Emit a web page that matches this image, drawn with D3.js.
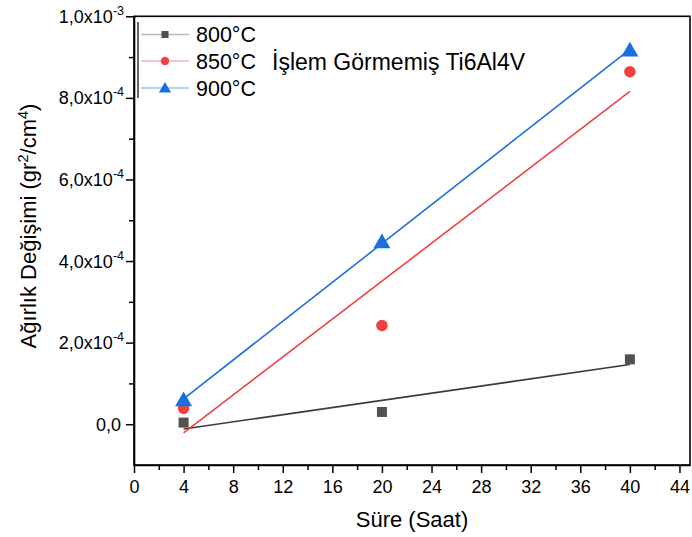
<!DOCTYPE html>
<html>
<head>
<meta charset="utf-8">
<script src="https://cdn.jsdelivr.net/npm/d3@7"></script>
<style>
  html, body { margin: 0; padding: 0; background: #fff; }
  svg { display: block; font-family: Arial, "Liberation Sans", sans-serif; }
</style>
</head>
<body>
<svg id="chart" width="692" height="537"></svg>
<script>
// Oxidation time (hours) and weight change for each temperature
const hours = [4, 20, 40];
const temps = ["800°C", "850°C", "900°C"];
const w800 = [4e-6, 3.0e-5, 1.59e-4];
const w850 = [3.9e-5, 2.42e-4, 8.64e-4];
const w900 = [6.0e-5, 4.47e-4, 9.17e-4];
const xTicks = [0, 4, 8, 12, 16, 20, 24, 28, 32, 36, 40, 44];
const yTicks = [0, 2e-4, 4e-4, 6e-4, 8e-4, 1e-3];
const yTickLabels = [["0,0", ""], ["2,0x10", "-4"], ["4,0x10", "-4"], ["6,0x10", "-4"], ["8,0x10", "-4"], ["1,0x10", "-3"]];
const sampleLabel = "İşlem Görmemiş Ti6Al4V";

const colors = ["#515151", "#F14040", "#1A6FDF"];
const lineColors = ["#3a3a3a", "#F14040", "#1A6FDF"];
const legendLineColors = ["#b8b8b8", "#f8b0b0", "#9cc0ef"];
const shapes = [d3.symbolSquare, d3.symbolCircle, d3.symbolTriangle];
const series = [w800, w850, w900];

const svg = d3.select("#chart");
const L = 134, R = 690, T = 16.3, B = 465;

const x = d3.scaleLinear().domain([0, 44.85]).range([L, R]);
const y = d3.scaleLinear().domain([-1e-4, 1e-3]).range([B, T]);

// least-squares line through each series
function fit(xs, ys) {
  const mx = d3.mean(xs), my = d3.mean(ys);
  let sxy = 0, sxx = 0;
  xs.forEach((v, i) => { sxy += (v - mx) * (ys[i] - my); sxx += (v - mx) * (v - mx); });
  const b = sxy / sxx, a = my - b * mx;
  return v => a + b * v;
}

// frame
svg.append("rect").attr("x", L).attr("y", T).attr("width", R - L).attr("height", B - T)
  .attr("fill", "none").attr("stroke", "#000").attr("stroke-width", 1.6);

// x axis
const xAxis = svg.append("g").attr("transform", `translate(0,${B})`)
  .call(d3.axisBottom(x).tickValues(xTicks).tickFormat(d3.format("d")).tickSize(8).tickSizeOuter(0));
svg.append("g").attr("transform", `translate(0,${B})`)
  .call(d3.axisBottom(x).tickValues(d3.range(2, 45, 4)).tickFormat("").tickSize(5).tickSizeOuter(0))
  .select(".domain").remove();
xAxis.selectAll("text").attr("font-size", 18).attr("fill", "#000").attr("dy", "0.95em")
  .attr("font-family", "Arial, 'Liberation Sans', sans-serif");

// y axis
const yAxis = svg.append("g").attr("transform", `translate(${L},0)`)
  .call(d3.axisLeft(y).tickValues(yTicks).tickFormat("").tickSize(8).tickSizeOuter(0));
svg.append("g").attr("transform", `translate(${L},0)`)
  .call(d3.axisLeft(y).tickValues([1e-4, 3e-4, 5e-4, 7e-4, 9e-4]).tickFormat("").tickSize(5).tickSizeOuter(0))
  .select(".domain").remove();
svg.selectAll(".domain").attr("stroke-width", 1.6);
svg.selectAll(".tick line").attr("stroke-width", 1.5);

yTicks.forEach((v, i) => {
  const [base, exp] = yTickLabels[i];
  const t = svg.append("text").attr("text-anchor", "end")
    .attr("x", exp ? L - 10 : L - 13).attr("y", y(v) + 6.5)
    .attr("font-size", 18).attr("fill", "#000");
  t.append("tspan").text(base);
  if (exp) t.append("tspan").attr("dy", -8).attr("font-size", 12.5).text(exp);
});

// axis titles
svg.append("text").attr("x", (L + R) / 2).attr("y", 527).attr("text-anchor", "middle")
  .attr("font-size", 22).text("Süre (Saat)");
const yt = svg.append("text").attr("transform", "translate(36,226) rotate(-90)")
  .attr("text-anchor", "middle").attr("font-size", 22);
yt.append("tspan").text("Ağırlık Değişimi (gr");
yt.append("tspan").attr("dy", -8).attr("font-size", 14.5).text("2");
yt.append("tspan").attr("dy", 8).text("/cm");
yt.append("tspan").attr("dy", -8).attr("font-size", 14.5).text("4");
yt.append("tspan").attr("dy", 8).text(")");

// fit lines
series.forEach((ys, i) => {
  const f = fit(hours, ys);
  const x0 = d3.min(hours), x1 = d3.max(hours);
  svg.append("line").attr("x1", x(x0)).attr("y1", y(f(x0))).attr("x2", x(x1)).attr("y2", y(f(x1)))
    .attr("stroke", lineColors[i]).attr("stroke-width", 1.6);
});

// markers
const sizes = [100, 105, 125];
series.forEach((ys, i) => {
  svg.append("g").selectAll("path").data(ys).join("path")
    .attr("transform", (d, j) => `translate(${x(hours[j])},${y(d) + (i === 2 ? 1.5 : 0)})`)
    .attr("d", d3.symbol().type(shapes[i]).size(sizes[i]))
    .attr("fill", colors[i]);
});

// legend
svg.append("line").attr("x1", 138).attr("x2", 138).attr("y1", 22).attr("y2", 98)
  .attr("stroke", "#000").attr("stroke-width", 1.2);
const legY = [34.5, 61, 88];
temps.forEach((name, i) => {
  svg.append("line").attr("x1", 141).attr("x2", 189).attr("y1", legY[i]).attr("y2", legY[i])
    .attr("stroke", legendLineColors[i]).attr("stroke-width", 1.4);
  svg.append("path").attr("transform", `translate(165,${legY[i] + (i === 2 ? 1 : 0)})`)
    .attr("d", d3.symbol().type(shapes[i]).size([50, 55, 65][i])).attr("fill", colors[i]);
  svg.append("text").attr("x", 196).attr("y", legY[i] + 7.5).attr("font-size", 21.5).text(name);
});

svg.append("text").attr("x", 272).attr("y", 70).attr("font-size", 23).text(sampleLabel);
</script>
</body>
</html>
